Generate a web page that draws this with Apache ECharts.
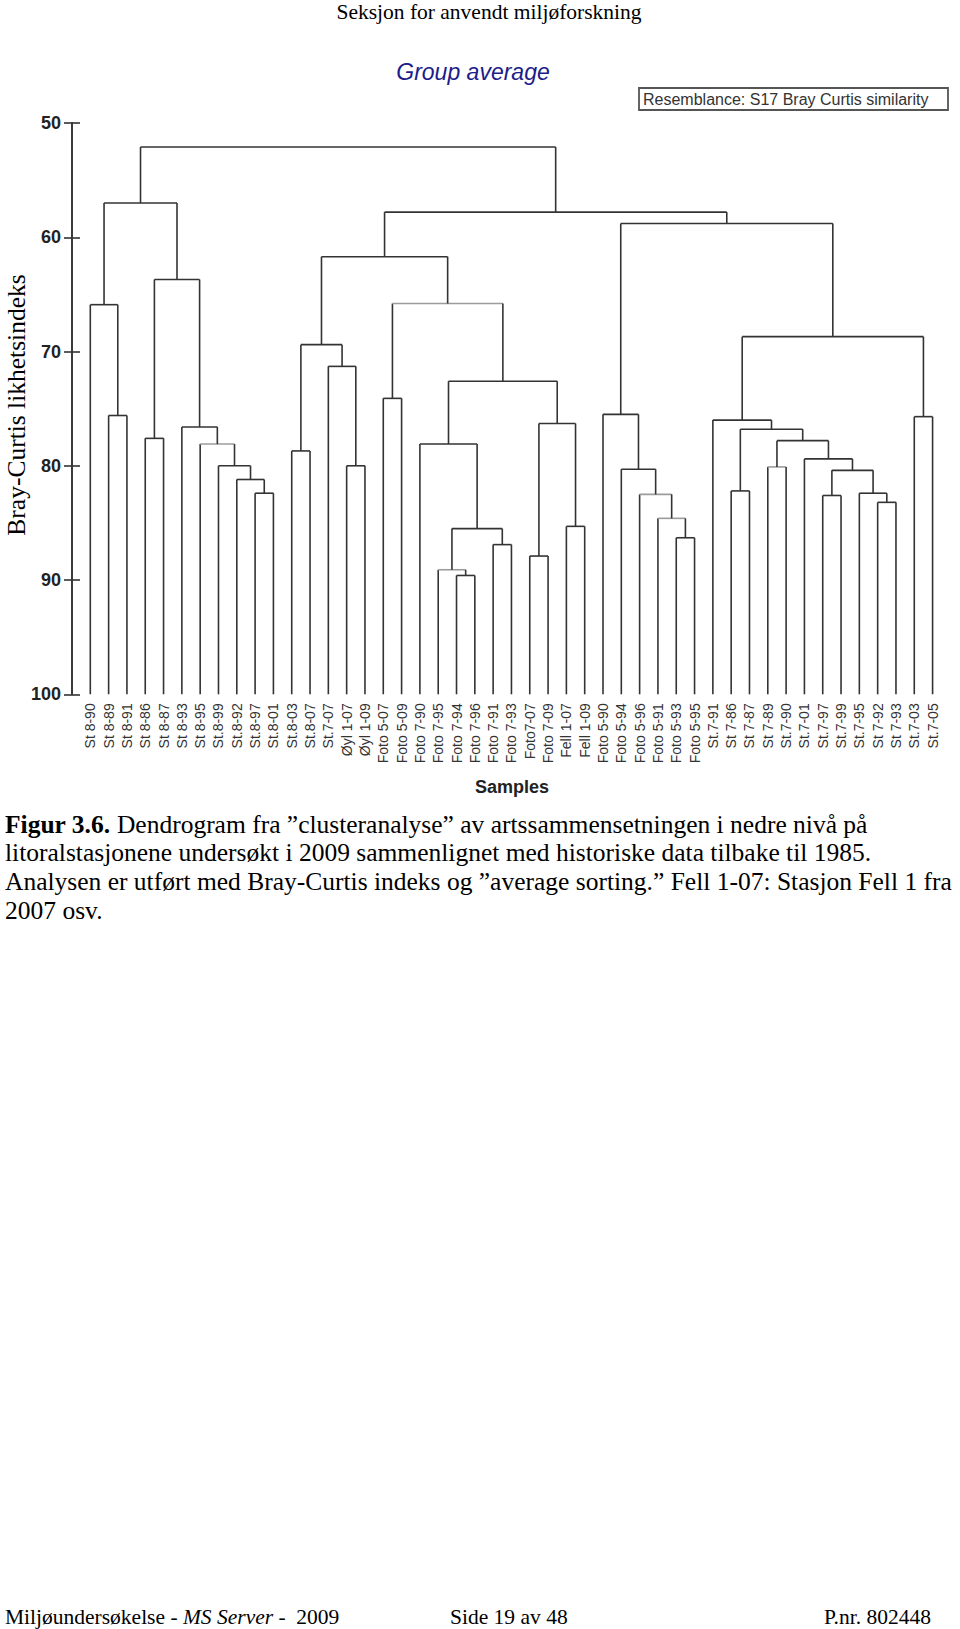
<!DOCTYPE html>
<html><head><meta charset="utf-8">
<script src="https://cdn.jsdelivr.net/npm/echarts@6/dist/echarts.min.js"></script>
<style>html,body{margin:0;padding:0;background:#fff}#c{width:960px;height:1629px}</style>
</head><body><div id="c"></div>
<script>
// ---- data ----
const leafLabels = [
  'St 8-90','St 8-89','St 8-91','St 8-86','St 8-87','St 8-93','St 8-95','St.8-99','St.8-92','St.8-97',
  'St.8-01','St.8-03','St.8-07','St.7-07','Øyl 1-07','Øyl 1-09','Foto 5-07','Foto 5-09','Foto 7-90','Foto 7-95',
  'Foto 7-94','Foto 7-96','Foto 7-91','Foto 7-93','Foto7-07','Foto 7-09','Fell 1-07','Fell 1-09','Foto 5-90','Foto 5-94',
  'Foto 5-96','Foto 5-91','Foto 5-93','Foto 5-95','St.7-91','St 7-86','St 7-87','St 7-89','St.7-90','St.7-01',
  'St.7-97','St.7-99','St.7-95','St 7-92','St 7-93','St.7-03','St.7-05'
];
const yTicks = [50, 60, 70, 80, 90, 100];
// linkage: cluster 47+k joins mergeLeft[k] and mergeRight[k] at similarity mergeLevel[k]
const mergeLeft  = [1, 0, 3, 9, 8, 7, 6, 5, 49, 48, 11, 14, 13, 57, 16, 20, 19, 22, 63, 18, 24, 26, 67, 66, 61, 60, 32, 31, 30, 29, 28, 35, 37, 43, 42, 40, 82, 39, 79, 78, 34, 45, 87, 77, 72, 56];
const mergeRight = [2, 47, 4, 10, 50, 51, 52, 53, 54, 55, 12, 15, 58, 59, 17, 21, 62, 23, 64, 65, 25, 27, 68, 69, 70, 71, 33, 73, 74, 75, 76, 36, 38, 44, 80, 41, 81, 83, 84, 85, 86, 46, 88, 89, 90, 91];
const mergeLevel = [75.6, 65.9, 77.6, 82.4, 81.2, 80.0, 78.1, 76.6, 63.7, 57.0, 78.7, 80.0, 71.3, 69.4, 74.1, 89.6, 89.1, 86.9, 85.5, 78.1, 87.9, 85.3, 76.3, 72.6, 65.8, 61.7, 86.3, 84.6, 82.5, 80.3, 75.5, 82.2, 80.1, 83.2, 82.4, 82.6, 80.4, 79.4, 77.8, 76.8, 76.0, 75.7, 68.7, 58.8, 57.8, 52.1];
const mergeGray  = [0, 0, 0, 0, 0, 0, 1, 0, 0, 0, 0, 0, 0, 0, 0, 0, 1, 0, 0, 0, 0, 0, 0, 0, 1, 0, 0, 1, 1, 0, 0, 0, 1, 0, 0, 0, 0, 0, 0, 0, 0, 0, 0, 0, 0, 0];

// ---- build dendrogram links from linkage ----
const nLeaf = leafLabels.length;
const nodeX = [], nodeH = [];
for (let i = 0; i < nLeaf; i++) { nodeX.push(i); nodeH.push(100); }
const links = [];
for (let k = 0; k < mergeLeft.length; k++) {
  const a = mergeLeft[k], b = mergeRight[k];
  nodeX.push((nodeX[a] + nodeX[b]) / 2);
  nodeH.push(mergeLevel[k]);
  links.push([nodeX[a], nodeH[a], nodeX[b], nodeH[b], mergeLevel[k], mergeGray[k]]);
}

const dark = '#333';
const chart = echarts.init(document.getElementById('c'), null, {renderer: 'svg'});
const serif = '"Liberation Serif", "Times New Roman", serif';
const sans = '"Liberation Sans", Arial, sans-serif';

chart.setOption({
  backgroundColor: '#fff',
  animation: false,
  grid: {left: 72, top: 123, width: 878.9, height: 571.3},
  xAxis: {
    type: 'value', min: -1, max: 47, interval: 1,
    axisLine: {show: false, onZero: false}, axisTick: {show: false}, splitLine: {show: false},
    axisLabel: {
      rotate: 90, margin: 9, fontFamily: sans, fontSize: 14, color: '#333',
      formatter: v => (leafLabels[v] !== undefined ? leafLabels[v] : '')
    }
  },
  yAxis: [{
    type: 'value', inverse: true, min: 50, max: 100, interval: 10, position: 'left', offset: 0,
    axisLine: {show: true, onZero: false, lineStyle: {color: dark, width: 1.6}},
    axisTick: {show: true, inside: false, length: 8, lineStyle: {color: dark, width: 1.6}},
    splitLine: {show: false},
    axisLabel: {margin: 11, fontFamily: sans, fontWeight: 'bold', fontSize: 18, color: '#222',
      formatter: v => (yTicks.indexOf(v) >= 0 ? String(v) : '')}
  }, {
    type: 'value', inverse: true, min: 50, max: 100, interval: 10, position: 'left', offset: 0,
    axisLine: {show: true, onZero: false, lineStyle: {color: dark, width: 1.6}},
    axisTick: {show: true, inside: true, length: 8, lineStyle: {color: dark, width: 1.6}},
    splitLine: {show: false}, axisLabel: {show: false}
  }],
  series: [{
    type: 'custom', clip: false,
    encode: {x: [0, 2], y: [1, 3, 4]},
    data: links,
    renderItem: (params, api) => {
      const xl = api.value(0), hl = api.value(1), xr = api.value(2), hr = api.value(3), h = api.value(4), g = api.value(5);
      const p0 = api.coord([xl, hl]), p1 = api.coord([xl, h]), p2 = api.coord([xr, h]), p3 = api.coord([xr, hr]);
      const st = c => ({stroke: c, lineWidth: 1.6, fill: null});
      return {type: 'group', children: [
        {type: 'polyline', shape: {points: [p0, p1]}, style: st(dark)},
        {type: 'polyline', shape: {points: [p1, p2]}, style: st(g ? '#9c9c9c' : dark)},
        {type: 'polyline', shape: {points: [p2, p3]}, style: st(dark)}
      ]};
    }
  }],
  graphic: [
    {type: 'text', style: {text: 'Seksjon for anvendt miljøforskning', x: 489, y: 12, align: 'center', verticalAlign: 'middle', font: '21.5px ' + serif, fill: '#000'}},
    {type: 'text', style: {text: 'Group average', x: 473, y: 72, align: 'center', verticalAlign: 'middle', font: 'italic 23px ' + sans, fill: '#1c1c8a'}},
    {type: 'rect', shape: {x: 639, y: 88, width: 309, height: 22}, style: {fill: '#fff', stroke: '#555', lineWidth: 1.8}},
    {type: 'text', style: {text: 'Resemblance: S17 Bray Curtis similarity', x: 643, y: 99.5, align: 'left', verticalAlign: 'middle', font: '16px ' + sans, fill: '#333'}},
    {type: 'text', rotation: Math.PI / 2, x: 16, y: 405, style: {text: 'Bray-Curtis likhetsindeks', x: 0, y: 0, align: 'center', verticalAlign: 'middle', font: '25.5px ' + serif, fill: '#000'}},
    {type: 'text', style: {text: 'Samples', x: 512, y: 787, align: 'center', verticalAlign: 'middle', font: 'bold 18px ' + sans, fill: '#222'}},
    {type: 'text', style: {text: '{b|Figur 3.6.} Dendrogram fra ”clusteranalyse” av artssammensetningen i nedre nivå på', x: 5, y: 824, verticalAlign: 'middle', font: '25.5px ' + serif, fill: '#000', rich: {b: {fontWeight: 'bold', fontSize: 25.5, fontFamily: serif, fill: '#000'}}}},
    {type: 'text', style: {text: 'litoralstasjonene undersøkt i 2009 sammenlignet med historiske data tilbake til 1985.', x: 5, y: 852, verticalAlign: 'middle', font: '25.5px ' + serif, fill: '#000'}},
    {type: 'text', style: {text: 'Analysen er utført med Bray-Curtis indeks og ”average sorting.” Fell 1-07: Stasjon Fell 1 fra', x: 5, y: 881, verticalAlign: 'middle', font: '25.5px ' + serif, fill: '#000'}},
    {type: 'text', style: {text: '2007 osv.', x: 5, y: 910, verticalAlign: 'middle', font: '25.5px ' + serif, fill: '#000'}},
    {type: 'text', style: {text: 'Miljøundersøkelse - {i|MS Server} -  2009', x: 5, y: 1617, verticalAlign: 'middle', font: '21.5px ' + serif, fill: '#000', rich: {i: {fontStyle: 'italic', fontSize: 21.5, fontFamily: serif, fill: '#000'}}}},
    {type: 'text', style: {text: 'Side 19 av 48', x: 450, y: 1617, verticalAlign: 'middle', font: '21.5px ' + serif, fill: '#000'}},
    {type: 'text', style: {text: 'P.nr. 802448', x: 824, y: 1617, verticalAlign: 'middle', font: '21.5px ' + serif, fill: '#000'}}
  ]
});
</script>
</body></html>
